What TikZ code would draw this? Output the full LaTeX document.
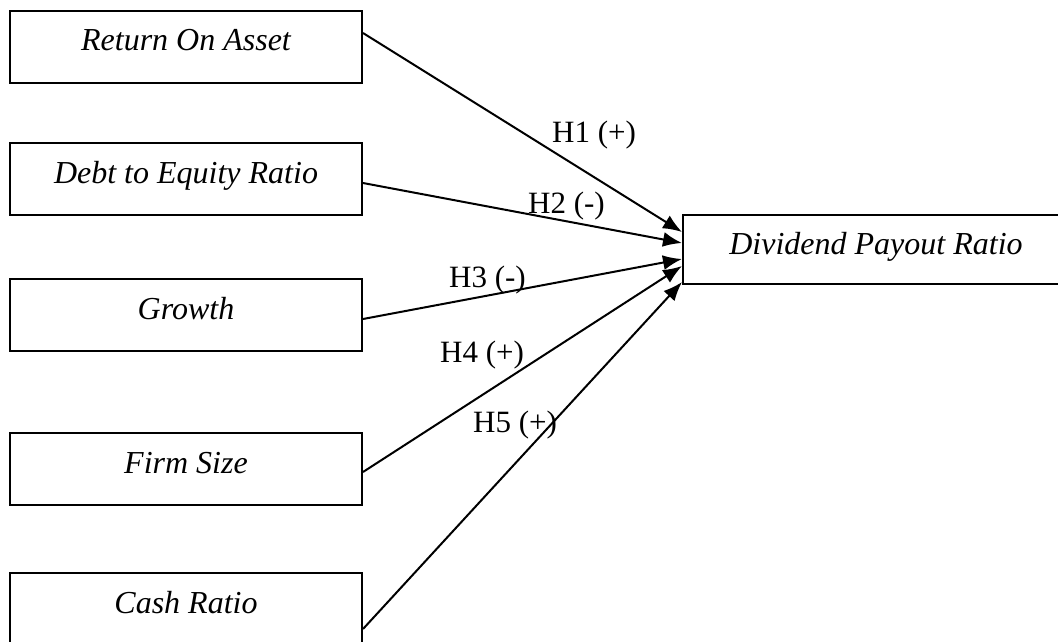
\documentclass[tikz,border=0pt]{standalone}
\usepackage{fontspec}
\setmainfont{Liberation Serif}
\usetikzlibrary{arrows.meta}
\tikzset{
  varbox/.style={draw,line width=2pt,inner sep=0pt,minimum width=352pt,
    text height=40pt,text depth=32pt,font=\fontsize{32}{38}\selectfont\itshape},
  hyp/.style={anchor=base west,inner sep=0pt,font=\fontsize{31}{36}\selectfont},
  link/.style={line width=2pt,-{Latex[length=19pt,width=15pt]}}
}
\begin{document}
\begin{tikzpicture}[x=1pt,y=-1pt]
		\useasboundingbox (0,0) rectangle (1058,641);
		% Variabel independen
		\node[varbox] (roa) at (186,46.5) {Return On Asset};
		\node[varbox] (der) at (186,179) {Debt to Equity Ratio};
		\node[varbox] (growth) at (186,315) {Growth};
		\node[varbox] (size) at (186,469) {Firm Size};
		\node[varbox] (cash) at (186,609) {Cash Ratio};
		% Variabel dependen
		\node[varbox,minimum width=386pt,text height=39pt,text depth=30pt] (dpr) at (876,249.5) {Dividend Payout Ratio};
		% Hipotesis
		\draw[link] ([yshift=13.5pt]roa.east) -- ([yshift=17.5pt]dpr.west);
		\draw[link] ([yshift=-4pt]der.east) -- ([yshift=6.5pt]dpr.west);
		\draw[link] ([yshift=-4pt]growth.east) -- ([yshift=-9.5pt]dpr.west);
		\draw[link] ([yshift=-3pt]size.east) -- ([yshift=-16.5pt]dpr.west);
		\draw[link] ([yshift=-20pt]cash.east) -- ([yshift=-32.5pt]dpr.west);
		\node[hyp] (h1) at (552,142) {H1 (+)};
		\node[hyp] (h2) at (528,213) {H2 (-)};
		\node[hyp] (h3) at (449,287) {H3 (-)};
		\node[hyp] (h4) at (440,362) {H4 (+)};
		\node[hyp] (h5) at (473,432) {H5 (+)};
\end{tikzpicture}
\end{document}
